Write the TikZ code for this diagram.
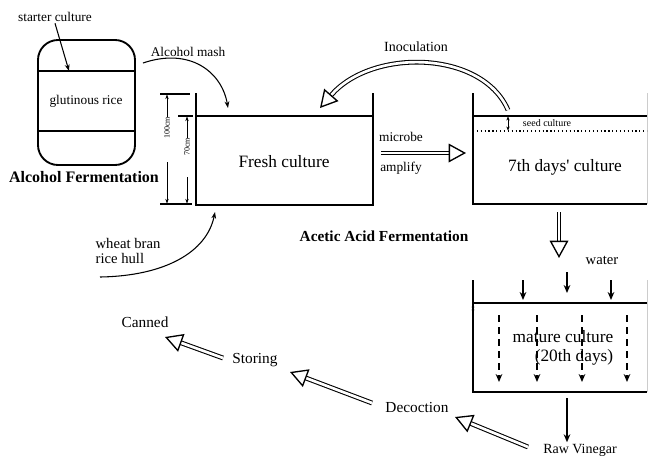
\documentclass[tikz,border=0pt]{standalone}
\usepackage{fontspec}
\setmainfont{Liberation Serif}
\usetikzlibrary{arrows.meta}

\newcommand{\txtsize}[1]{\fontsize{#1}{#1}\selectfont}

\begin{document}
\begin{tikzpicture}[
  x=0.75pt, y=-0.75pt,
  >={Stealth[length=5pt,width=3.6pt]},
  wall/.style={line width=1.4pt, draw=black},
  thin/.style={line width=0.8pt, draw=black},
  label/.style={inner sep=1pt, font=\txtsize{10pt}},
  biglabel/.style={inner sep=1pt, font=\txtsize{13pt}},
  steplabel/.style={inner sep=1pt, font=\txtsize{11.5pt}},
  hollow/.style={line width=0.8pt, double, double distance=2pt,
    -{Triangle[open,length=13pt,width=14pt,line width=1pt]}},
  feed/.style={line width=1pt, ->, >={Stealth[length=6pt,width=5pt]}},
  dim/.style={line width=0.4pt, ->, >={Stealth[length=3.5pt,width=2.5pt]}}
]
\useasboundingbox (0,0) rectangle (650,458);

% starter jar
\draw[wall, rounded corners=15pt] (38,40) rectangle (135,165);
\draw[thin] (38,71) -- (135,71);
\draw[thin] (38,131) -- (135,131);
\node[label] (rice) at (86,101) {glutinous rice};
\node[label] (starter) at (55,17) {starter culture};
\coordinate (starterpt) at (69,71);
\draw[thin, ->] (starter.south) -- (starterpt);
\node[inner sep=1pt, font=\txtsize{12pt}\bfseries] (alcferm) at (84,177) {Alcohol Fermentation};

% fresh culture tank
\draw[wall] (196,93) -- (196,205) -- (373,205) -- (373,93);
\draw[thin] (196,116) -- (373,116);
\node[biglabel] (fresh) at (284,162) {Fresh culture};

% depth marks
\draw[thin] (160,94) -- (190,94);
\draw[thin] (160,204) -- (192,204);
\draw[thin] (178,116) -- (193,116);
\node[inner sep=0pt, rotate=90, font=\txtsize{6pt}] (d100) at (167,128) {100cm};
\node[inner sep=0pt, rotate=90, font=\txtsize{6pt}] (d70) at (187,147) {70cm};
\draw[dim] (d100.east) -- (167,94.5);
\draw[dim] (167,162) -- (167,203.5);
\draw[dim] (d70.east) -- (187,116.5);
\draw[dim] (187,177) -- (187,203.5);

% alcohol mash
\node[label] (mash) at (188,52) {Alcohol mash};
\coordinate (mashstart) at (143,63);
\coordinate (mashend) at (228,108);
\draw[thin, ->] (mashstart) .. controls (190,47) and (222,72) .. (mashend);

% wheat bran
\node[inner sep=1pt, align=left, font=\txtsize{11pt}] (bran) at (128,251) {wheat bran\\rice hull};
\coordinate (branstart) at (100,277);
\coordinate (branend) at (215,212);
\draw[thin, ->] (branstart) .. controls (165,276) and (207,252) .. (branend);

% 7th days tank
\draw[wall] (473,93) -- (473,204) -- (647,204);
\draw[wall] (473,116) -- (647,116);
\draw[line width=0.4pt, gray!40] (647,93) -- (647,204);
\draw[line width=0.9pt, dotted] (473,131) -- (647,131);
\draw[line width=0.4pt, <->, >={Stealth[length=3pt,width=2.5pt]}] (508,116.5) -- (508,130.5);
\node[inner sep=0pt, font=\txtsize{7.5pt}] (seed) at (547,123) {seed culture};
\node[biglabel] (seventh) at (565,167) {7th days\textquotesingle\ culture};

% inoculation
\node[inner sep=1pt, font=\txtsize{10.5pt}] (inoc) at (416,47) {Inoculation};
\coordinate (inocstart) at (508,110);
\coordinate (inocend) at (320,108);
\draw[hollow] (inocstart) .. controls (482,50) and (372,48) .. (inocend);

% microbe amplify
\node[label] (microbe) at (401,137) {microbe};
\node[label] (amplify) at (401,168) {amplify};
\coordinate (ampstart) at (381,153);
\coordinate (ampend) at (466,153);
\draw[hollow] (ampstart) -- (ampend);

\node[inner sep=1pt, font=\txtsize{11.5pt}\bfseries] (aceferm) at (384,236) {Acetic Acid Fermentation};

% transfer to mature tank
\coordinate (downstart) at (559,212);
\coordinate (downend) at (559,258);
\draw[hollow] (downstart) -- (downend);

% mature culture tank
\node[inner sep=1pt, font=\txtsize{11pt}] (water) at (602,260) {water};
\draw[wall] (473,280) -- (473,392) -- (647,392);
\draw[wall] (473,303) -- (647,303);
\draw[line width=0.4pt, gray!40] (647,280) -- (647,392);
\draw[line width=0.4pt, <->, >={Stealth[length=2.5pt,width=2pt]}] (473,304) -- (473,313);
\foreach \wx/\wt/\wb in {523/280/300, 567/272/293, 611/280/300}
  \draw[feed] (\wx,\wt) -- (\wx,\wb);
\foreach \dx in {499,537,582,627}
  \draw[line width=1pt, dashed, dash pattern=on 5pt off 4pt, ->, >={Stealth[length=6pt,width=5pt]}] (\dx,315) -- (\dx,382);
\node[biglabel] (mature) at (563,337) {mature culture};
\node[biglabel] (days) at (574,357) {(20th days)};

% raw vinegar
\node[inner sep=1pt, font=\txtsize{10.5pt}] (raw) at (580,450) {Raw Vinegar};
\coordinate (tankout) at (567,398);
\draw[feed] (tankout) -- (raw.north -| tankout);

% product chain
\node[steplabel] (decoct) at (417,407) {Decoction};
\node[steplabel] (storing) at (255,360) {Storing};
\node[steplabel] (canned) at (145,322) {Canned};
\draw[hollow] (528,447) -- (455,417);
\draw[hollow] (372,403) -- (290,372);
\draw[hollow] (223,358) -- (165,337);
\end{tikzpicture}
\end{document}
